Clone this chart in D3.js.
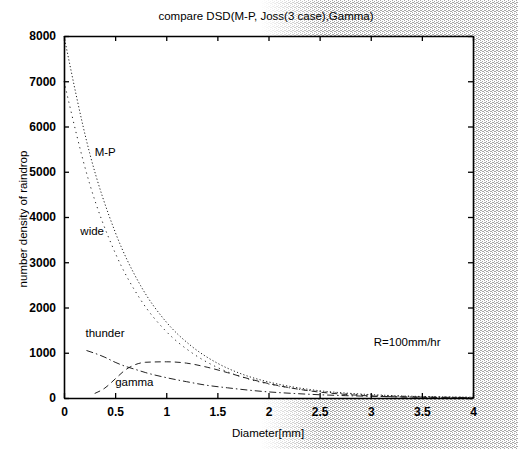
<!DOCTYPE html>
<html><head><meta charset="utf-8">
<script src="https://cdn.jsdelivr.net/npm/d3@7"></script>
<style>body{margin:0;background:#fff}svg{display:block}text{font-family:"Liberation Sans",Arial,sans-serif;fill:#000}</style>
</head><body><svg id="c" width="518" height="449"></svg>
<script>
// ---- data ----
const mpD   = [0,0.25,0.5,0.75,1,1.25,1.5,1.75,2,2.25,2.5,2.75,3,3.25,3.5,3.75,4];
const mpN   = [8000,5420,3670,2480,1680,1140,770,520,355,240,160,110,75,50,34,23,16];
const wideD = [0,0.25,0.5,0.75,1,1.25,1.5,1.75,2,2.25,2.5,2.75,3,3.25,3.5,3.75,4];
const wideN = [7000,4740,3210,2170,1470,1000,675,457,310,210,142,96,65,44,30,20,14];
const thunderD = [0.22,0.4,0.5,0.6,0.7,0.8,1,1.2,1.4,1.6,1.8,2,2.25,2.5,2.75,3,3.5,4];
const thunderN = [1050,900,790,700,630,560,450,360,280,225,175,135,100,72,52,38,20,10];
const gammaD = [0.3,0.4,0.5,0.6,0.7,0.8,1,1.2,1.4,1.6,1.8,2,2.25,2.5,2.75,3,3.5,4];
const gammaN = [100,220,420,620,740,790,800,770,680,560,430,320,210,130,80,45,15,5];
const xTicks = [0,0.5,1,1.5,2,2.5,3,3.5,4];
const xTickLabels = ["0","0.5","1","1.5","2","2.5","3","3.5","4"];
const yTicks = [0,1000,2000,3000,4000,5000,6000,7000,8000];
const yTickLabels = ["0","1000","2000","3000","4000","5000","6000","7000","8000"];
const title = "compare DSD(M-P, Joss(3 case),Gamma)";
const xLabel = "Diameter[mm]";
const yLabel = "number density of raindrop";
const curveLabels = [
  {text:"M-P", D:0.3, N:5350},
  {text:"wide", D:0.16, N:3600},
  {text:"thunder", D:0.21, N:1350},
  {text:"gamma", D:0.5, N:270},
  {text:"R=100mm/hr", D:3.03, N:1150}
];

const svg = d3.select("#c");
const x = d3.scaleLinear().domain([0,4]).range([64,473]);
const y = d3.scaleLinear().domain([0,8000]).range([398,36]);

// scanned dither background
const defs = svg.append("defs");
const pat = defs.append("pattern").attr("id","dith").attr("width",4).attr("height",4).attr("patternUnits","userSpaceOnUse");
pat.append("rect").attr("width",4).attr("height",4).attr("fill","#fff");
[[0,0],[2,1],[1,2],[3,3],[2,3],[0,2]].forEach(p=>pat.append("rect").attr("x",p[0]).attr("y",p[1]).attr("width",1).attr("height",1).attr("fill","#8a8a8a"));
const gR = defs.append("linearGradient").attr("id","gR").attr("x1",0).attr("x2",1);
gR.append("stop").attr("offset",0).attr("stop-color","#fff").attr("stop-opacity",0);
gR.append("stop").attr("offset",0.25).attr("stop-color","#fff").attr("stop-opacity",1);
const mR = defs.append("mask").attr("id","mR");
mR.append("rect").attr("x",260).attr("y",0).attr("width",258).attr("height",449).attr("fill","url(#gR)");
svg.append("rect").attr("x",260).attr("y",0).attr("width",258).attr("height",449).attr("fill","url(#dith)").attr("mask","url(#mR)").attr("opacity",0.75);
svg.append("rect").attr("x",64).attr("y",36).attr("width",409).attr("height",362).attr("fill","#fff");

// curves
const line = d3.line().x(d=>x(d[0])).y(d=>y(d[1]));
function draw(D,N,dash){
  svg.append("path").datum(D.map((d,i)=>[d,N[i]])).attr("d",line.curve(d3.curveMonotoneX))
    .attr("fill","none").attr("stroke","#222").attr("stroke-width",1).attr("stroke-dasharray",dash);
}
draw(mpD,mpN,"1.2,2.2");
draw(wideD,wideN,"1.2,4");
draw(thunderD,thunderN,"7,3,1.5,3");
draw(gammaD,gammaN,"6,4");

// axes (box, inward ticks)
const ax = svg.append("g");
ax.append("g").attr("transform","translate(0,398)")
  .call(d3.axisBottom(x).tickValues(xTicks).tickFormat((d,i)=>xTickLabels[i]).tickSizeInner(-5).tickSizeOuter(0).tickPadding(9));
ax.append("g").attr("transform","translate(0,36)")
  .call(d3.axisTop(x).tickValues(xTicks).tickFormat("").tickSizeInner(-5).tickSizeOuter(0));
ax.append("g").attr("transform","translate(64,0)")
  .call(d3.axisLeft(y).tickValues(yTicks).tickFormat((d,i)=>yTickLabels[i]).tickSizeInner(-5).tickSizeOuter(0).tickPadding(8));
ax.append("g").attr("transform","translate(473,0)")
  .call(d3.axisRight(y).tickValues(yTicks).tickFormat("").tickSizeInner(-5).tickSizeOuter(0));
ax.selectAll("path.domain").attr("stroke","#000").attr("stroke-width",1.6);
ax.selectAll(".tick line").attr("stroke","#000").attr("stroke-width",1.3);
ax.selectAll(".tick text").attr("font-size",12).attr("font-family","Liberation Sans, Arial, sans-serif").attr("font-weight","bold").attr("fill","#000");

// titles
svg.append("text").attr("x",266).attr("y",20).attr("text-anchor","middle").attr("font-size",11.5).text(title);
svg.append("text").attr("x",268).attr("y",437).attr("text-anchor","middle").attr("font-size",11.5).text(xLabel);
svg.append("text").attr("transform","translate(27,219) rotate(-90)").attr("text-anchor","middle").attr("font-size",11.5).text(yLabel);

svg.selectAll("text.lab").data(curveLabels).enter().append("text").attr("class","lab")
  .attr("x",d=>x(d.D)).attr("y",d=>y(d.N)).attr("font-size",11.5).attr("fill","#111").text(d=>d.text);
</script></body></html>
